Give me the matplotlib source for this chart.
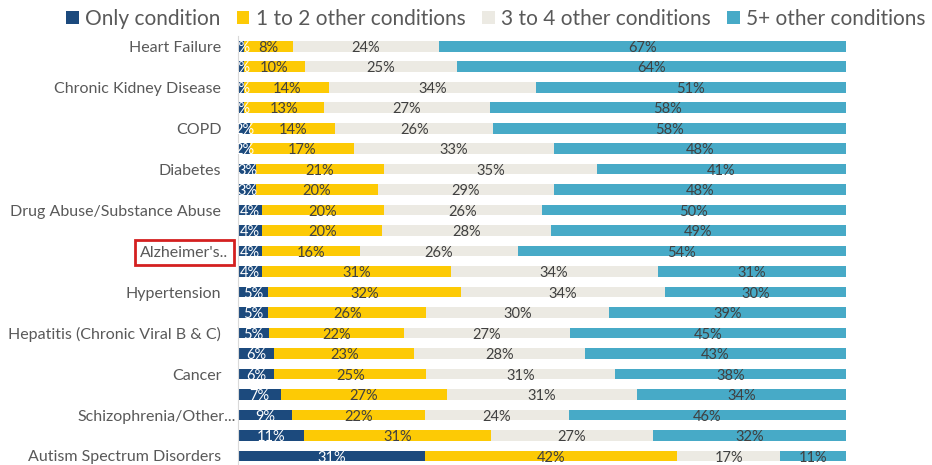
import matplotlib
matplotlib.use('Agg')
import matplotlib.pyplot as plt
import matplotlib.transforms as mtransforms
import numpy as np

plt.rcParams['font.family'] = ['Lato', 'DejaVu Sans']

# Data, top row first
row_labels = ['Heart Failure', '', 'Chronic Kidney Disease', '', 'COPD', '',
              'Diabetes', '', 'Drug Abuse/Substance Abuse', '', "Alzheimer's..", '',
              'Hypertension', '', 'Hepatitis (Chronic Viral B & C)', '', 'Cancer', '',
              'Schizophrenia/Other...', '', 'Autism Spectrum Disorders']
only_cond = [1, 1, 1, 1, 2, 2, 3, 3, 4, 4, 4, 4, 5, 5, 5, 6, 6, 7, 9, 11, 31]
one_two = [8, 10, 14, 13, 14, 17, 21, 20, 20, 20, 16, 31, 32, 26, 22, 23, 25, 27, 22, 31, 42]
three_four = [24, 25, 34, 27, 26, 33, 35, 29, 26, 28, 26, 34, 34, 30, 27, 28, 31, 31, 24, 27, 17]
five_plus = [67, 64, 51, 58, 58, 48, 41, 48, 50, 49, 54, 31, 30, 39, 45, 43, 38, 34, 46, 32, 11]

series = [
    ('Only condition', only_cond, '#1c4a7d', 'white'),
    ('1 to 2 other conditions', one_two, '#fdca05', '#404040'),
    ('3 to 4 other conditions', three_four, '#eceae3', '#404040'),
    ('5+ other conditions', five_plus, '#47aac7', '#404040'),
]

# rounded labels do not always add to 100, bars fill the full width
totals = np.sum([s[1] for s in series], axis=0).astype(float)

fig = plt.figure(figsize=(9.32, 4.65), dpi=100)
ax = fig.add_axes([238 / 932, 0, 608 / 932, 1 - 36 / 465])

y = np.arange(len(row_labels))
left = np.zeros(len(row_labels))
for name, vals, color, tcolor in series:
    vals = np.array(vals, dtype=float)
    widths = vals / totals * 100
    ax.barh(y, widths, left=left, height=0.52, color=color, label=name)
    for yi, (l, w, v) in enumerate(zip(left, widths, vals)):
        ax.text(l + w / 2, yi + 0.08, f'{int(v)}%', ha='center', va='center',
                fontsize=10.5, color=tcolor, clip_on=False)
    left += widths

ax.set_xlim(0, 100)
ax.set_ylim(20.44, -0.5)
ax.set_yticks(y)
ax.set_yticklabels(row_labels, fontsize=11.5, color='#595959')
ax.tick_params(axis='y', length=0, pad=12)
ax.set_xticks([])
for s in ['top', 'right', 'bottom']:
    ax.spines[s].set_visible(False)
ax.spines['left'].set_color('#d9d9d9')

for tl in ax.get_yticklabels():
    txt = tl.get_text()
    if txt.startswith('Alzheimer'):
        # red box around the Alzheimer's label
        tl.set_bbox(dict(facecolor='white', edgecolor='#d42020', linewidth=2, pad=4))
        tl.set_transform(tl.get_transform() + mtransforms.ScaledTranslation(0.07, 0, fig.dpi_scale_trans))
    elif txt.startswith('Schizophrenia'):
        tl.set_transform(tl.get_transform() + mtransforms.ScaledTranslation(0.15, 0, fig.dpi_scale_trans))

fig.legend(loc='center', bbox_to_anchor=(0.532, 1 - 19 / 465), ncol=4, frameon=False,
           fontsize=15, handlelength=0.6, handleheight=0.6, handletextpad=0.3,
           columnspacing=0.8, labelcolor='#595959')

fig.savefig('out.png', dpi=100)
